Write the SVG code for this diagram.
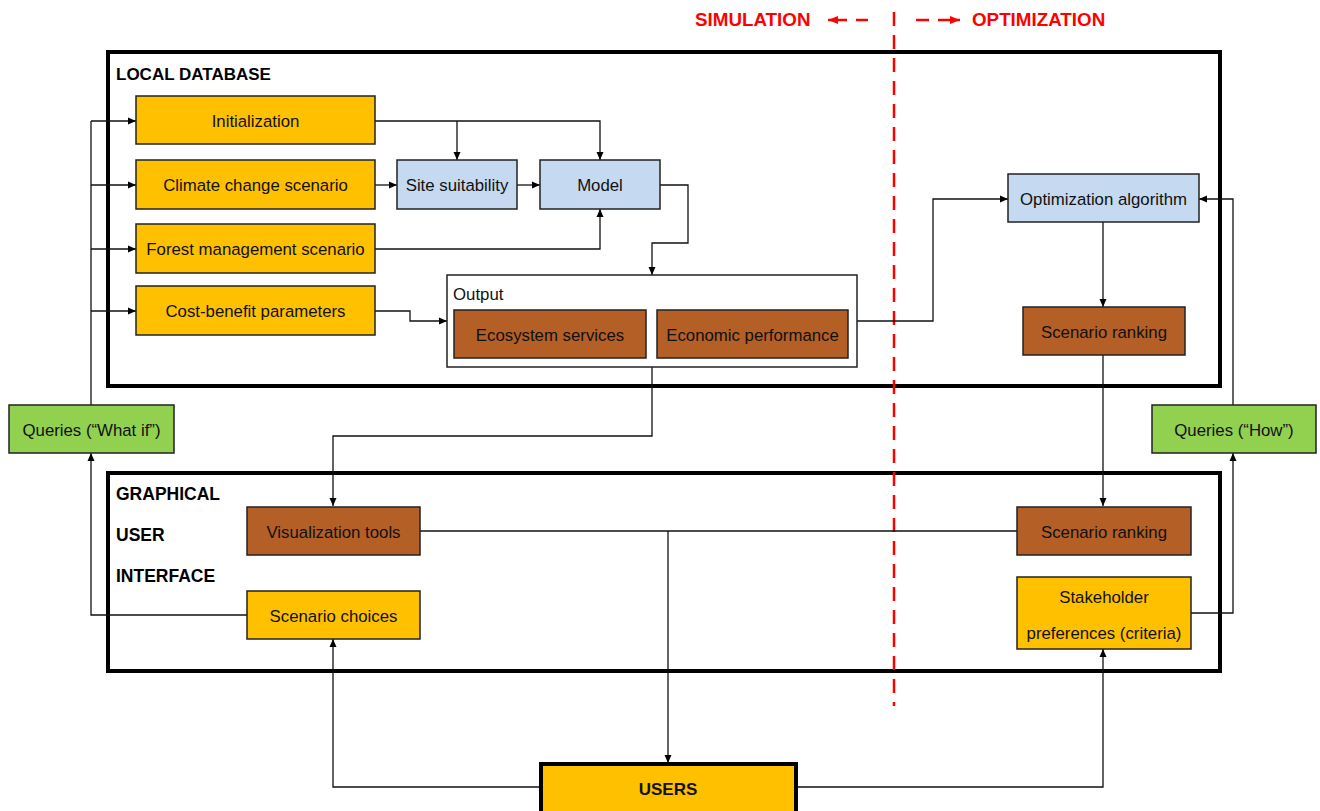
<svg xmlns="http://www.w3.org/2000/svg" width="1320" height="811" viewBox="0 0 1320 811">
<defs>
<marker id="ah" markerWidth="8" markerHeight="8" refX="8" refY="4" orient="auto" markerUnits="userSpaceOnUse"><path d="M0,0.5 L8,4 L0,7.5 Z" fill="#000"/></marker>
<marker id="rh" markerWidth="10" markerHeight="10" refX="10" refY="5" orient="auto" markerUnits="userSpaceOnUse"><path d="M0,1 L10,5 L0,9 Z" fill="#FF0000"/></marker>
<style>
.box{stroke:#222;stroke-width:1.5}
.y{fill:#FFC000}.b{fill:#B45F26}.l{fill:#C5D9F0}.g{fill:#92D050}
.t{font-family:"Liberation Sans",Arial,sans-serif;font-size:16.8px;fill:#111;text-anchor:middle;dominant-baseline:central}
.h{font-family:"Liberation Sans",Arial,sans-serif;font-size:17px;font-weight:bold;fill:#000}
.r{font-family:"Liberation Sans",Arial,sans-serif;font-size:18.8px;font-weight:bold;fill:#FF0000}
.c{fill:none;stroke:#111;stroke-width:1.3}
.a{marker-end:url(#ah)}
</style>
</defs>
<rect width="1320" height="811" fill="#fff"/>

<g id="containers">
<rect x="108" y="52" width="1112" height="334" fill="none" stroke="#000" stroke-width="4"/>
<text class="h" x="116" y="80">LOCAL DATABASE</text>
<rect x="108" y="473" width="1112" height="198" fill="none" stroke="#000" stroke-width="4"/>
<text class="h" x="116" y="500" style="font-size:17.5px">GRAPHICAL</text>
<text class="h" x="116" y="541" style="font-size:17.5px">USER</text>
<text class="h" x="116" y="582" style="font-size:17.5px">INTERFACE</text>
</g>

<g id="divider">
<line x1="894" y1="12" x2="894" y2="706" stroke="#FF0000" stroke-width="2.5" stroke-dasharray="14 9"/>
<text class="r" x="695" y="26">SIMULATION</text>
<text class="r" x="972" y="26">OPTIMIZATION</text>
<line x1="847" y1="20" x2="828" y2="20" stroke="#FF0000" stroke-width="2.5" marker-end="url(#rh)"/>
<line x1="856" y1="20" x2="868" y2="20" stroke="#FF0000" stroke-width="2.5"/>
<line x1="916" y1="20" x2="929" y2="20" stroke="#FF0000" stroke-width="2.5"/>
<line x1="938" y1="20" x2="960" y2="20" stroke="#FF0000" stroke-width="2.5" marker-end="url(#rh)"/>
</g>

<g id="connectors">
<path class="c" d="M91,405 V121"/>
<path class="c a" d="M91,121 H136"/>
<path class="c a" d="M91,185 H136"/>
<path class="c a" d="M91,249 H136"/>
<path class="c a" d="M91,311 H136"/>
<path class="c a" d="M247,615 H91 V453"/>
<path class="c a" d="M375,121 H600 V160"/>
<path class="c a" d="M457,121 V160"/>
<path class="c a" d="M375,185 H397"/>
<path class="c a" d="M517,185 H540"/>
<path class="c a" d="M375,249 H600 V209"/>
<path class="c a" d="M660,185 H688 V243 H652 V275"/>
<path class="c a" d="M375,311 H410 V321 H447"/>
<path class="c a" d="M857,321 H933 V199 H1008"/>
<path class="c a" d="M1103,222 V307"/>
<path class="c a" d="M1103,355 V506"/>
<path class="c a" d="M652,367 V436 H333 V506"/>
<path class="c" d="M420,531 H1017"/>
<path class="c a" d="M668,531 V763"/>
<path class="c a" d="M540,787 H333 V639"/>
<path class="c a" d="M797,787 H1103 V649"/>
<path class="c a" d="M1191,613 H1233 V453"/>
<path class="c a" d="M1233,405 V199 H1199"/>
</g>

<g id="n-init"><rect class="box y" x="136" y="96" width="239" height="48"/><text class="t" x="255.5" y="121">Initialization</text></g>
<g id="n-climate"><rect class="box y" x="136" y="160" width="239" height="49"/><text class="t" x="255.5" y="185">Climate change scenario</text></g>
<g id="n-forest"><rect class="box y" x="136" y="224" width="239" height="49"/><text class="t" x="255.5" y="249">Forest management scenario</text></g>
<g id="n-cost"><rect class="box y" x="136" y="286" width="239" height="49"/><text class="t" x="255.5" y="311">Cost-benefit parameters</text></g>
<g id="n-site"><rect class="box l" x="397" y="160" width="120" height="49"/><text class="t" x="457" y="185">Site suitability</text></g>
<g id="n-model"><rect class="box l" x="540" y="160" width="120" height="49"/><text class="t" x="600" y="185">Model</text></g>
<g id="n-output">
<rect x="447" y="275" width="410" height="92" fill="#fff" stroke="#222" stroke-width="1.5"/>
<text class="t" x="453" y="294" style="text-anchor:start">Output</text>
<rect class="box b" x="454" y="310" width="192" height="48"/><text class="t" x="550" y="335">Ecosystem services</text>
<rect class="box b" x="657" y="310" width="191" height="48"/><text class="t" x="752.5" y="335">Economic performance</text>
</g>
<g id="n-optalg"><rect class="box l" x="1008" y="174" width="191" height="48"/><text class="t" x="1103.5" y="199">Optimization algorithm</text></g>
<g id="n-rank1"><rect class="box b" x="1023" y="307" width="162" height="48"/><text class="t" x="1104" y="332">Scenario ranking</text></g>
<g id="n-qwhat"><rect class="box g" x="9" y="405" width="165" height="48"/><text class="t" x="91.5" y="430">Queries (“What if”)</text></g>
<g id="n-qhow"><rect class="box g" x="1152" y="405" width="164" height="48"/><text class="t" x="1234" y="430">Queries (“How”)</text></g>
<g id="n-vis"><rect class="box b" x="247" y="507" width="173" height="48"/><text class="t" x="333.5" y="532">Visualization tools</text></g>
<g id="n-choices"><rect class="box y" x="247" y="591" width="173" height="48"/><text class="t" x="333.5" y="616">Scenario choices</text></g>
<g id="n-rank2"><rect class="box b" x="1017" y="507" width="174" height="48"/><text class="t" x="1104" y="532">Scenario ranking</text></g>
<g id="n-stake"><rect class="box y" x="1017" y="577" width="174" height="72"/><text class="t" x="1104" y="597">Stakeholder</text><text class="t" x="1104" y="633">preferences (criteria)</text></g>
<g id="n-users"><rect x="541" y="764" width="255" height="50" fill="#FFC000" stroke="#000" stroke-width="4"/><text class="t" x="668" y="789" style="font-weight:bold;font-size:17px">USERS</text></g>
</svg>
